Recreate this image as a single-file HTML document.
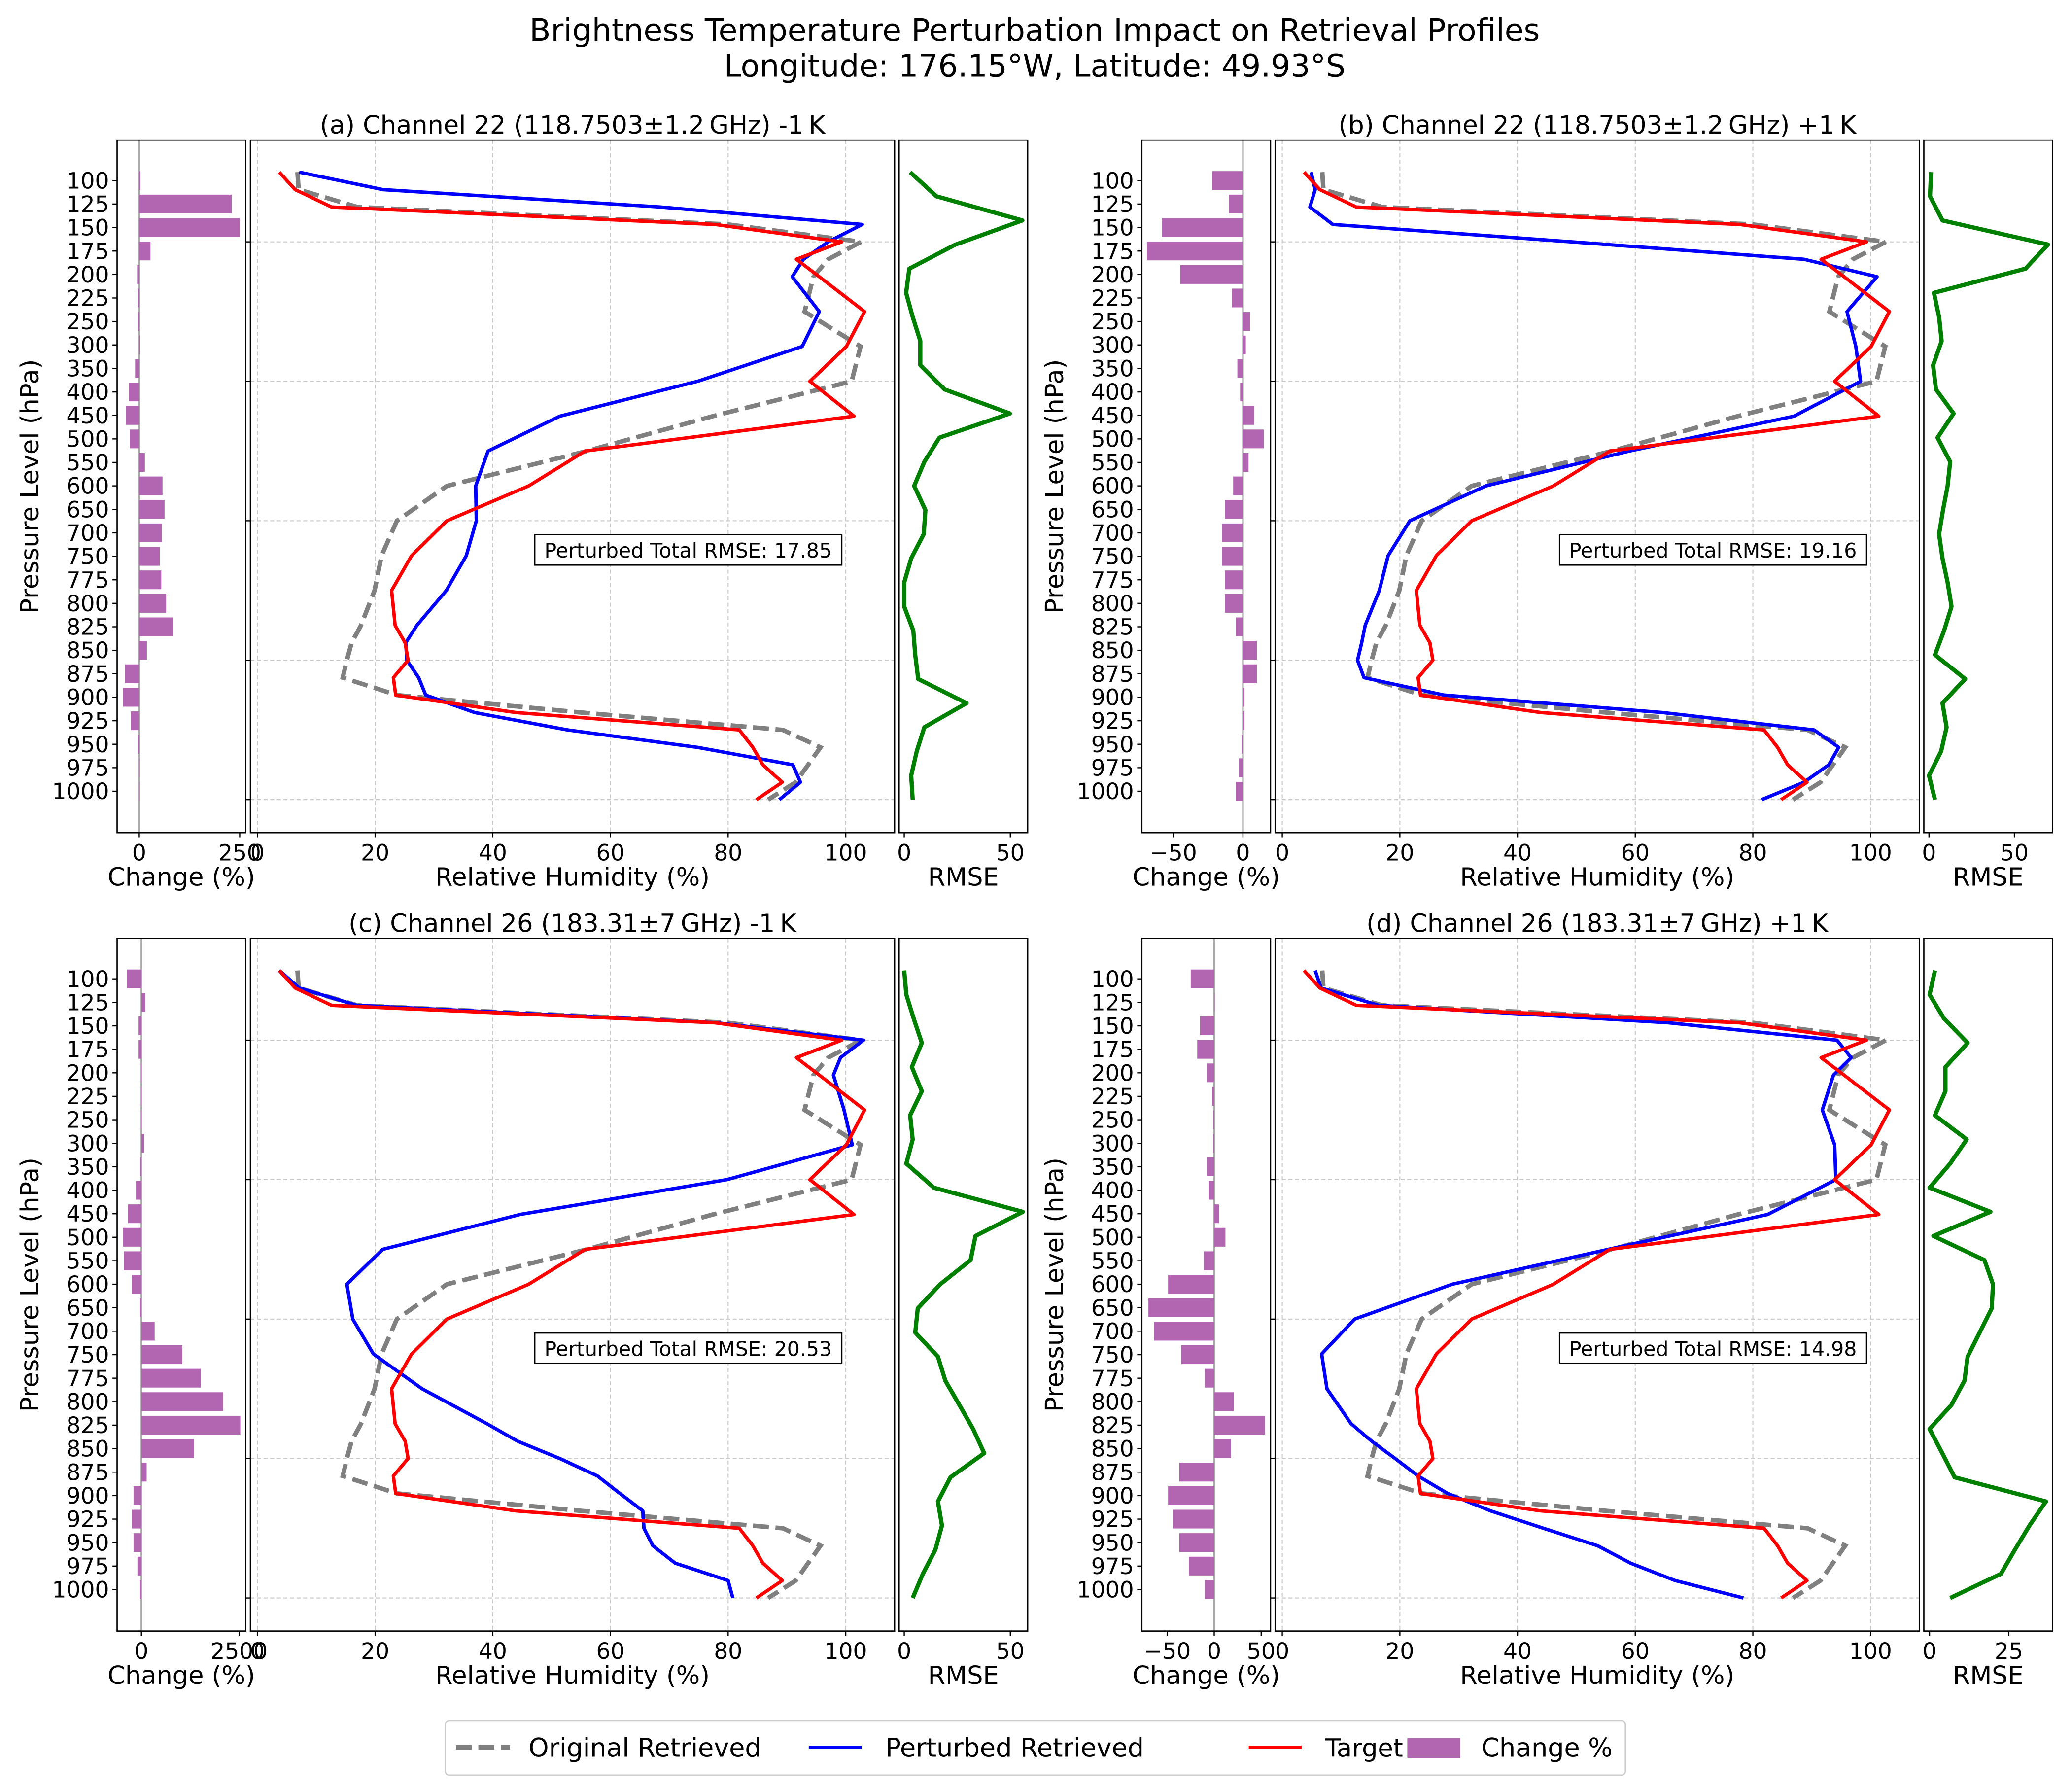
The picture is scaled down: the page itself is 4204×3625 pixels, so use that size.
<!DOCTYPE html>
<html><head><meta charset="utf-8"><style>
html,body{margin:0;padding:0;background:#fff}
svg{display:block}
text{font-family:"DejaVu Sans","Liberation Sans",sans-serif;fill:#000}
</style></head><body>
<svg id="fig" xmlns="http://www.w3.org/2000/svg" width="4204" height="3625" viewBox="0 0 1568 1352" preserveAspectRatio="none">
<rect x="0" y="0" width="1568" height="1352" fill="#fff"/>
<text x="783" y="31" font-size="23.5" text-anchor="middle">Brightness Temperature Perturbation Impact on Retrieval Profiles</text>
<text x="783" y="58" font-size="23.5" text-anchor="middle">Longitude: 176.15°W, Latitude: 49.93°S</text>
<g id="panels"></g>
<g>
<rect x="337" y="1302" width="893" height="41" rx="3" fill="#fff" stroke="#ccc" stroke-width="1"/>
<line x1="345" y1="1322" x2="386" y2="1322" stroke="#808080" stroke-width="3.5" stroke-dasharray="12,5"/>
<text x="400" y="1329" font-size="19.5">Original Retrieved</text>
<line x1="612" y1="1322" x2="652" y2="1322" stroke="#0000ff" stroke-width="2.6"/>
<text x="670" y="1329" font-size="19.5">Perturbed Retrieved</text>
<line x1="945" y1="1322" x2="985" y2="1322" stroke="#ff0000" stroke-width="2.6"/>
<text x="1003" y="1329" font-size="19">Target</text>
<rect x="1065" y="1315" width="40" height="15" fill="#b266b2"/>
<text x="1121" y="1329" font-size="19.5">Change %</text>
</g>
</svg>
<script>
const levels = [100,125,150,175,200,225,250,300,350,400,450,500,550,600,650,700,750,775,800,825,850,875,900,925,950,975,1000];
const targetRH = [3.7,6.4,12.6,77.8,99.3,91.6,95.5,103.2,100.1,93.9,101.4,55.7,46.1,32.2,26.2,22.8,23.4,25.1,25.6,23.1,23.5,43.9,81.9,84.2,85.9,89.2,84.8];
const originalRH = [6.8,7,17,80,102.6,97,94.5,93,102.5,101,77.4,56,32.2,23.7,21.1,19.9,17.6,16,15.2,14.5,23.7,55,89.3,95.7,93.6,91.5,86.8];
const perturbedA = [7.1,21.3,68.5,102.8,97,92.8,90.9,95.5,92.6,74.8,51.4,39.2,37.1,37.2,35.5,32.1,27.1,25.2,25.4,27.4,28.6,36.9,52.7,74.8,91,92.3,88.7];
const perturbedB = [4.9,5.6,4.7,8.6,49.2,88.7,101.1,96,97.5,98.3,87,59,34.6,21.7,18,16.5,14.1,13.5,12.8,13.9,27.5,64.6,90.4,94.6,92.9,88.7,81.5];
const perturbedC = [3.7,7.1,16.9,78,103,99.1,97.9,99.7,101.1,79.8,44.6,21.3,15.2,16.2,19.7,28,39,44.2,51.4,57.8,61.6,65.5,65.7,67.2,71,80,80.8];
const perturbedD = [5.6,6.6,16.4,65.7,94.3,96.7,93.7,91.8,93.9,94.1,82.5,55.4,28.9,12.3,6.7,7.6,11.7,15.2,19.2,23.1,28.1,35.4,44.4,53.6,59.2,66.8,78.4];
const rmseA = [2.8,15.2,55.7,24.2,2.4,0.9,4,7.6,7.6,19,49.8,16.6,9.5,4.7,10,9.2,3.3,0,0,4.3,5.2,6.6,29.4,9.5,5.9,3.3,4];
const rmseB = [1.2,0.6,7.9,69.7,56.5,2.9,5.9,7.4,2.4,4.1,14.4,5,12.4,10.9,8.2,5.9,7.9,10.9,13.2,8.8,3.5,21.2,7.9,10.3,7.1,0,3.5];
const rmseC = [0,1,4.5,8.3,3.6,8.3,2.8,4,1,14,55.9,33.6,31.3,17,6.4,5.2,15.9,19.4,26,32.5,37.7,21.8,15.9,17.8,14.7,8.8,4];
const rmseD = [1.7,0,4.6,12,5,5,1.7,11.7,6.5,0,19.2,1.2,17.3,20,19.6,15.8,12,11,6.9,0,4,7.9,36.7,31.5,26.9,22.5,6.5];
const changeA = [3,230,250,28,-5,-4,-3,2,-10,-26,-33,-23,14,58,63,56,51,55,67,85,19,-35,-40,-21,-3,0,1];
const changeB = [-22,-10,-58,-69,-45,-8,5,2,-4,-2,8,15,4,-7,-13,-15,-15,-13,-13,-5,10,10,1,1,-1,-3,-5];
const changeC = [-370,100,-70,-70,-10,-10,-10,70,-30,-135,-340,-470,-440,-240,-35,340,1050,1520,2090,2530,1350,135,-200,-240,-200,-100,-35];
const changeD = [-25,0,-15,-18,-8,-2,-1,-1,-8,-6,5,12,-11,-49,-70,-64,-35,-10,21,54,18,-37,-49,-44,-37,-27,-10];
const rhTicks = [0,20,40,60,80,100];
const pressureGrid = [200,400,600,800,1000];

const panels = [
 {id:'a', ox:0, oy:0, title:'(a) Channel 22 (118.7503±1.2\u2009GHz) -1\u2009K', pert:perturbedA, rmse:rmseA, change:changeA, barDom:[-55,265], barTicks:[0,250], rmseDom:[-2.4,58.2], rmseTicks:[0,50], total:'17.85'},
 {id:'b', ox:775.5, oy:0, title:'(b) Channel 22 (118.7503±1.2\u2009GHz) +1\u2009K', pert:perturbedB, rmse:rmseB, change:changeB, barDom:[-72.6,19.8], barTicks:[-50,0], rmseDom:[-3.0,72.3], rmseTicks:[0,50], total:'19.16'},
 {id:'c', ox:0, oy:604, title:'(c) Channel 26 (183.31±7\u2009GHz) -1\u2009K', pert:perturbedC, rmse:rmseC, change:changeC, barDom:[-620,2670], barTicks:[0,2500], rmseDom:[-2.4,58.2], rmseTicks:[0,50], total:'20.53'},
 {id:'d', ox:775.5, oy:604, title:'(d) Channel 26 (183.31±7\u2009GHz) +1\u2009K', pert:perturbedD, rmse:rmseD, change:changeD, barDom:[-77,60], barTicks:[-50,0,50], rmseDom:[-1.8,38.75], rmseTicks:[0,25], total:'14.98'}
];
const NS='http://www.w3.org/2000/svg';
const root=document.getElementById('panels');
function mk(tag,attrs,parent){const e=document.createElementNS(NS,tag);for(const k in attrs)e.setAttribute(k,attrs[k]);(parent||root).appendChild(e);return e;}
function tx(str,attrs,parent){const e=mk('text',attrs,parent);e.textContent=str;return e;}
const TF=17, LF=19;

panels.forEach(P=>{
 const g=mk('g',{});
 
 
 const ox=P.ox, oy=P.oy;
 const top=106+oy, bot=630+oy;
 const bx0=88.6+ox, bx1=186+ox, mx0=189.5+ox, mx1=677+ox, rx0=680.4+ox, rx1=777.7+ox;
 const xRH=v=>mx0+(v-(-1.2))/(108.3-(-1.2))*(mx1-mx0);
 const yP=p=>oy+183+(p-200)*0.5275;
 const yI=i=>yP(100)+i*(yP(1000)-yP(100))/26;
 const yBar=i=>oy+136.6+i*17.77;
 const xBar=v=>bx0+(v-P.barDom[0])/(P.barDom[1]-P.barDom[0])*(bx1-bx0);
 const xR=v=>rx0+(v-P.rmseDom[0])/(P.rmseDom[1]-P.rmseDom[0])*(rx1-rx0);

 const zl=mk('line',{x1:xBar(0),y1:top,x2:xBar(0),y2:bot,stroke:'#aaaaaa','stroke-width':1.2},g);
 
 
 P.change.forEach((v,i)=>{
  const x0=Math.min(xBar(0),xBar(v)), w=Math.abs(xBar(v)-xBar(0));
  const r=mk('rect',{x:x0,y:yBar(i)-7.1,width:Math.max(w,0.3),height:14.2,fill:'#b266b2'},g);
  
  
 });
 levels.forEach((l,i)=>{
  mk('line',{x1:bx0-3.5,y1:yBar(i),x2:bx0,y2:yBar(i),stroke:'#000','stroke-width':0.9},g);
  const t=tx(String(l),{x:bx0-6,y:yBar(i)+6,'font-size':TF,'text-anchor':'end'},g);
  
  
 });
 P.barTicks.forEach(v=>{
  mk('line',{x1:xBar(v),y1:bot,x2:xBar(v),y2:bot+3.5,stroke:'#000','stroke-width':0.9},g);
  const t=tx(String(v).replace('-','\u2212'),{x:xBar(v),y:bot+21,'font-size':TF,'text-anchor':'middle'},g);
  
  
 });
 const bf=mk('rect',{x:bx0,y:top,width:bx1-bx0,height:bot-top,fill:'none',stroke:'#000','stroke-width':1},g);
 
 
 const bl=tx('Change (%)',{x:(bx0+bx1)/2,y:bot+40,'font-size':LF,'text-anchor':'middle'},g);
 
 
 const yl=tx('Pressure Level (hPa)',{x:0,y:0,'font-size':LF,'text-anchor':'middle',transform:'translate('+(29+ox)+','+(368+oy)+') rotate(-90)'},g);
 
 

 rhTicks.forEach(v=>{
  const gl=mk('line',{x1:xRH(v),y1:top,x2:xRH(v),y2:bot,stroke:'#c8c8c8','stroke-width':0.8,'stroke-dasharray':'3,2'},g);
  
  
  mk('line',{x1:xRH(v),y1:bot,x2:xRH(v),y2:bot+3.5,stroke:'#000','stroke-width':0.9},g);
  const t=tx(String(v),{x:xRH(v),y:bot+21,'font-size':TF,'text-anchor':'middle'},g);
  
  
 });
 pressureGrid.forEach(p=>{
  const gl=mk('line',{x1:mx0,y1:yP(p),x2:mx1,y2:yP(p),stroke:'#c8c8c8','stroke-width':0.8,'stroke-dasharray':'3,2'},g);
  
  
  mk('line',{x1:mx0-3.5,y1:yP(p),x2:mx0,y2:yP(p),stroke:'#000','stroke-width':0.9},g);
 });
 const pts=arr=>arr.map((v,i)=>xRH(v).toFixed(2)+','+yP(levels[i]).toFixed(2)).join(' ');
 const lo=mk('polyline',{points:pts(originalRH),fill:'none',stroke:'#808080','stroke-width':3.4,'stroke-dasharray':'12,5'},g);
 
 
 const lp=mk('polyline',{points:pts(P.pert),fill:'none',stroke:'#0000ff','stroke-width':2.6,'stroke-linejoin':'round'},g);
 
 
 const lt=mk('polyline',{points:pts(targetRH),fill:'none',stroke:'#ff0000','stroke-width':2.6,'stroke-linejoin':'round'},g);
 
 
 const mf=mk('rect',{x:mx0,y:top,width:mx1-mx0,height:bot-top,fill:'none',stroke:'#000','stroke-width':1},g);
 
 
 const bx=mk('rect',{x:404.7+ox,y:404.5+oy,width:232.3,height:23,fill:'#fff',stroke:'#000','stroke-width':1},g);
 
 
 const bt=tx('Perturbed Total RMSE: '+P.total,{x:520.8+ox,y:421.8+oy,'font-size':15.3,'text-anchor':'middle'},g);
 
 
 const ml=tx('Relative Humidity (%)',{x:(mx0+mx1)/2,y:bot+40,'font-size':LF,'text-anchor':'middle'},g);
 
 
 const pt=tx(P.title,{x:(mx0+mx1)/2,y:top-5,'font-size':19,'text-anchor':'middle'},g);
 
 

 const rl=mk('polyline',{points:P.rmse.map((v,i)=>xR(v).toFixed(2)+','+yI(i).toFixed(2)).join(' '),fill:'none',stroke:'#008000','stroke-width':3.2,'stroke-linejoin':'round'},g);
 
 
 P.rmseTicks.forEach(v=>{
  mk('line',{x1:xR(v),y1:bot,x2:xR(v),y2:bot+3.5,stroke:'#000','stroke-width':0.9},g);
  const t=tx(String(v),{x:xR(v),y:bot+21,'font-size':TF,'text-anchor':'middle'},g);
  
  
 });
 const rf=mk('rect',{x:rx0,y:top,width:rx1-rx0,height:bot-top,fill:'none',stroke:'#000','stroke-width':1},g);
 
 
 const rt=tx('RMSE',{x:(rx0+rx1)/2,y:bot+40,'font-size':LF,'text-anchor':'middle'},g);
 
 
});
</script>
</body></html>
